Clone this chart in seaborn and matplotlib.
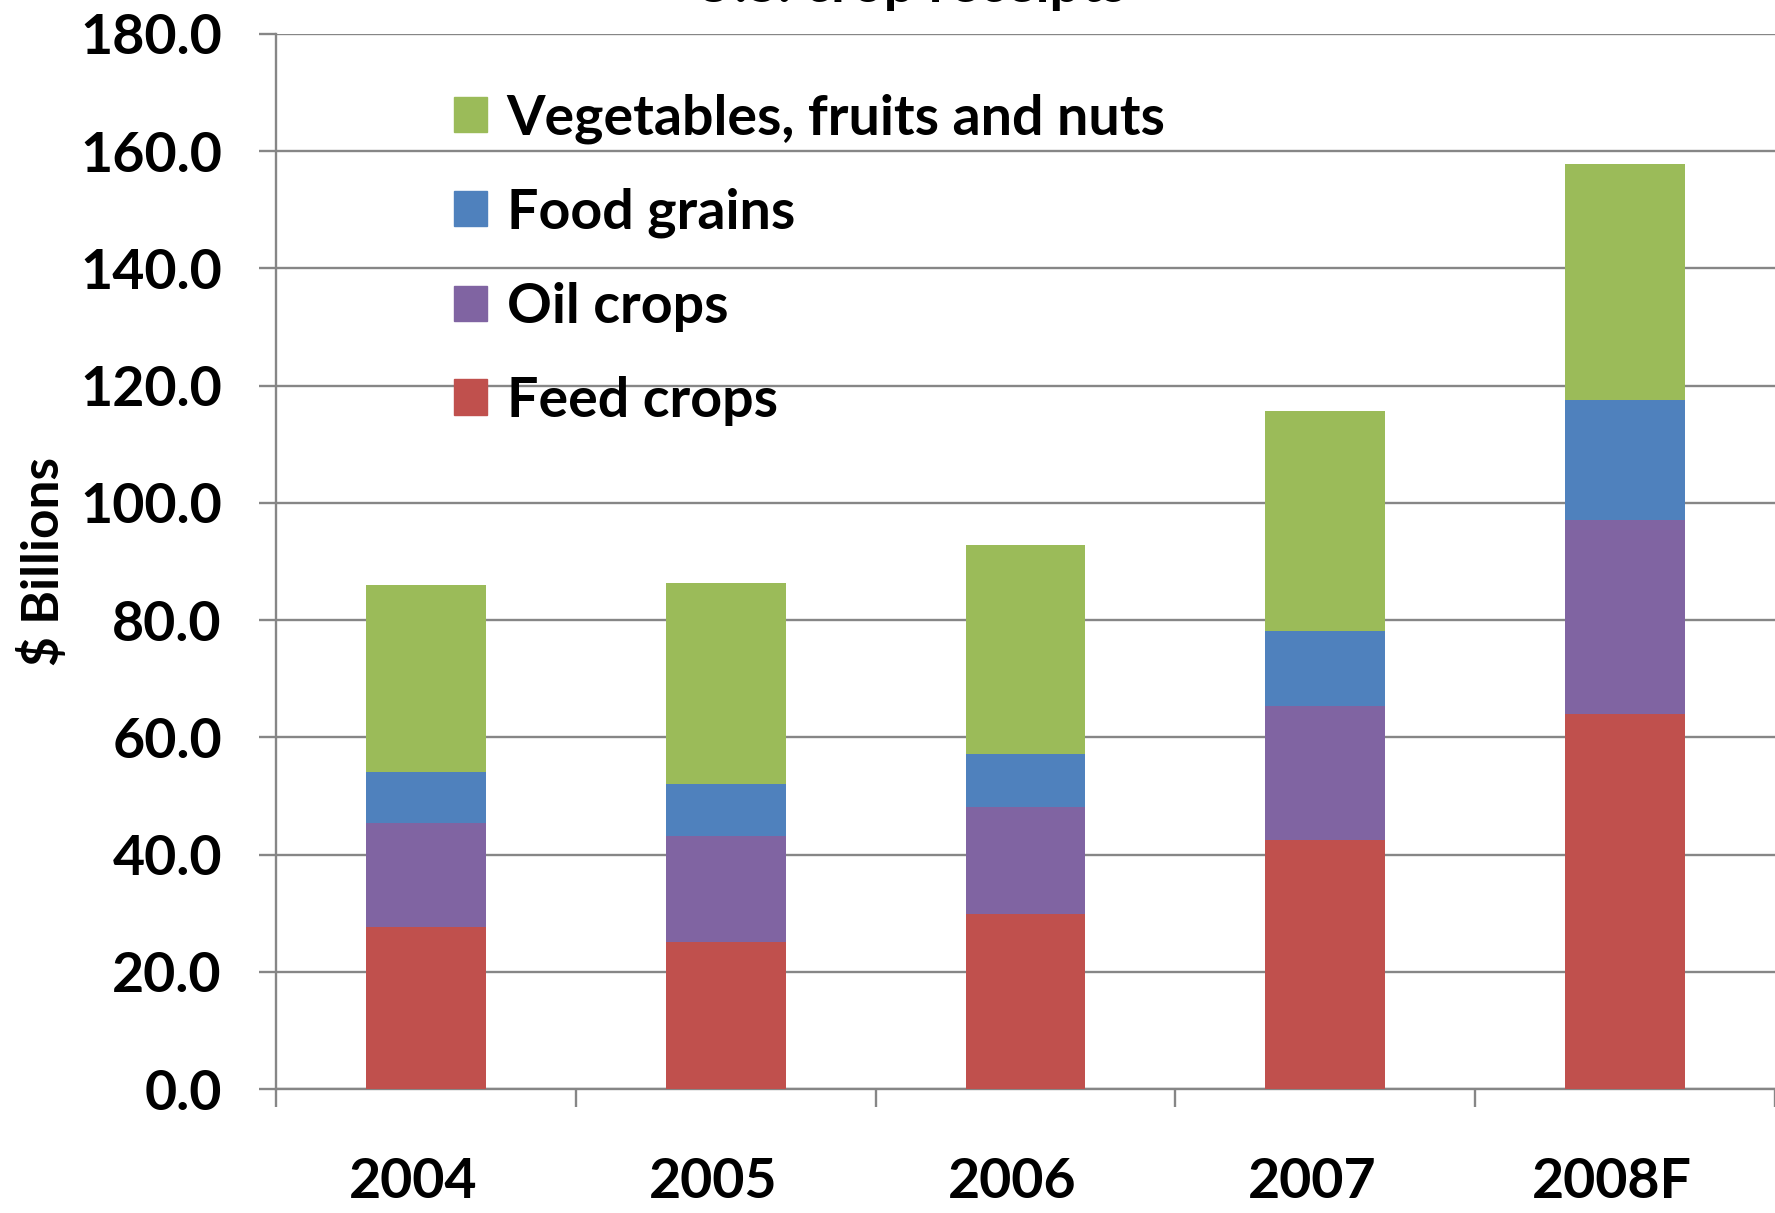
import matplotlib
matplotlib.use("Agg")
import matplotlib.pyplot as plt
import matplotlib.patches as mpatches
import matplotlib.transforms as mtransforms
import numpy as np
import pandas as pd
import seaborn as sns

# Crop receipts by category, $ billions
years = ["2004", "2005", "2006", "2007", "2008F"]
feed_crops = [27.6, 25.1, 29.8, 42.5, 64.0]
oil_crops = [17.8, 18.0, 18.3, 22.9, 33.1]
food_grains = [8.7, 8.9, 9.1, 12.7, 20.5]
veg_fruits_nuts = [31.9, 34.4, 35.6, 37.5, 40.2]

series_names = ["Feed crops", "Oil crops", "Food grains", "Vegetables, fruits and nuts"]
series_values = [feed_crops, oil_crops, food_grains, veg_fruits_nuts]
series_colors = ["#C0504D", "#8064A2", "#4F81BD", "#9BBB59"]
y_ticks = [0, 20, 40, 60, 80, 100, 120, 140, 160, 180]

sns.set_theme(style="white")
plt.rcParams["font.family"] = ["Lato", "DejaVu Sans"]
plt.rcParams["font.weight"] = "bold"
plt.rcParams["text.color"] = "black"

grid_color = "#868686"

fig = plt.figure(figsize=(17.75, 12.13), dpi=100)
ax = fig.add_axes([0.1555, 0.1022, 0.8445, 0.8698])

# Stacked bars: draw cumulative totals from the top layer down
df = pd.DataFrame({"year": years})
cum = np.zeros(len(years))
cums = []
for vals in series_values:
    cum = cum + np.array(vals)
    cums.append(cum.copy())
for name, total, color in reversed(list(zip(series_names, cums, series_colors))):
    df["total"] = total
    sns.barplot(data=df, x="year", y="total", order=years, color=color,
                saturation=1, width=0.4, linewidth=0, ax=ax, zorder=3)

ax.set_xlim(-0.5, 4.5)
ax.set_ylim(0, 180)
ax.set_yticks(y_ticks)
ax.set_yticklabels([f"{v:.1f}" for v in y_ticks])
ax.yaxis.grid(True, color=grid_color, linewidth=1.7, zorder=0)
ax.xaxis.grid(False)
ax.set_axisbelow(True)

for side in ["top", "right"]:
    ax.spines[side].set_visible(False)
for side in ["left", "bottom"]:
    ax.spines[side].set_color(grid_color)
    ax.spines[side].set_linewidth(1.7)

ax.tick_params(axis="y", which="major", direction="out", length=12, width=1.7,
               color=grid_color, pad=27, labelsize=40, left=True)
ax.tick_params(axis="x", which="major", length=0, pad=49, labelsize=40)
ax.set_xticks(np.arange(-0.5, 4.6, 1.0), minor=True)
ax.tick_params(axis="x", which="minor", direction="out", length=13, width=1.7,
               color=grid_color, bottom=True)
for lbl in ax.get_xticklabels() + ax.get_yticklabels():
    lbl.set_fontweight("bold")
    lbl.set_color("black")
# category labels sit slightly left of the bar centres
shift = mtransforms.ScaledTranslation(-13 / 100, 0, fig.dpi_scale_trans)
for lbl in ax.get_xticklabels():
    lbl.set_transform(lbl.get_transform() + shift)

ax.set_xlabel("")
ax.set_ylabel("$ Billions", fontsize=37, fontweight="bold", color="black")
ax.yaxis.set_label_coords(-0.139, 0.5)

handles = [mpatches.Patch(color=c, label=n) for n, c in zip(series_names, series_colors)]
leg = ax.legend(handles=handles[::-1], labels=series_names[::-1], loc="upper left",
                bbox_to_anchor=(454 / 1775, 1 - 93 / 1213), bbox_transform=fig.transFigure,
                frameon=False, fontsize=40, handlelength=0.6, handleheight=0.6,
                handletextpad=0.35, labelspacing=0.79, borderpad=0, borderaxespad=0)
for t in leg.get_texts():
    t.set_fontweight("bold")
    t.set_color("black")

fig.text(910 / 1775, 1 - 2 / 1213, "U.S. crop receipts", ha="center", va="baseline",
         fontsize=40, fontweight="bold", color="black")

fig.savefig("out.png", dpi=100)
